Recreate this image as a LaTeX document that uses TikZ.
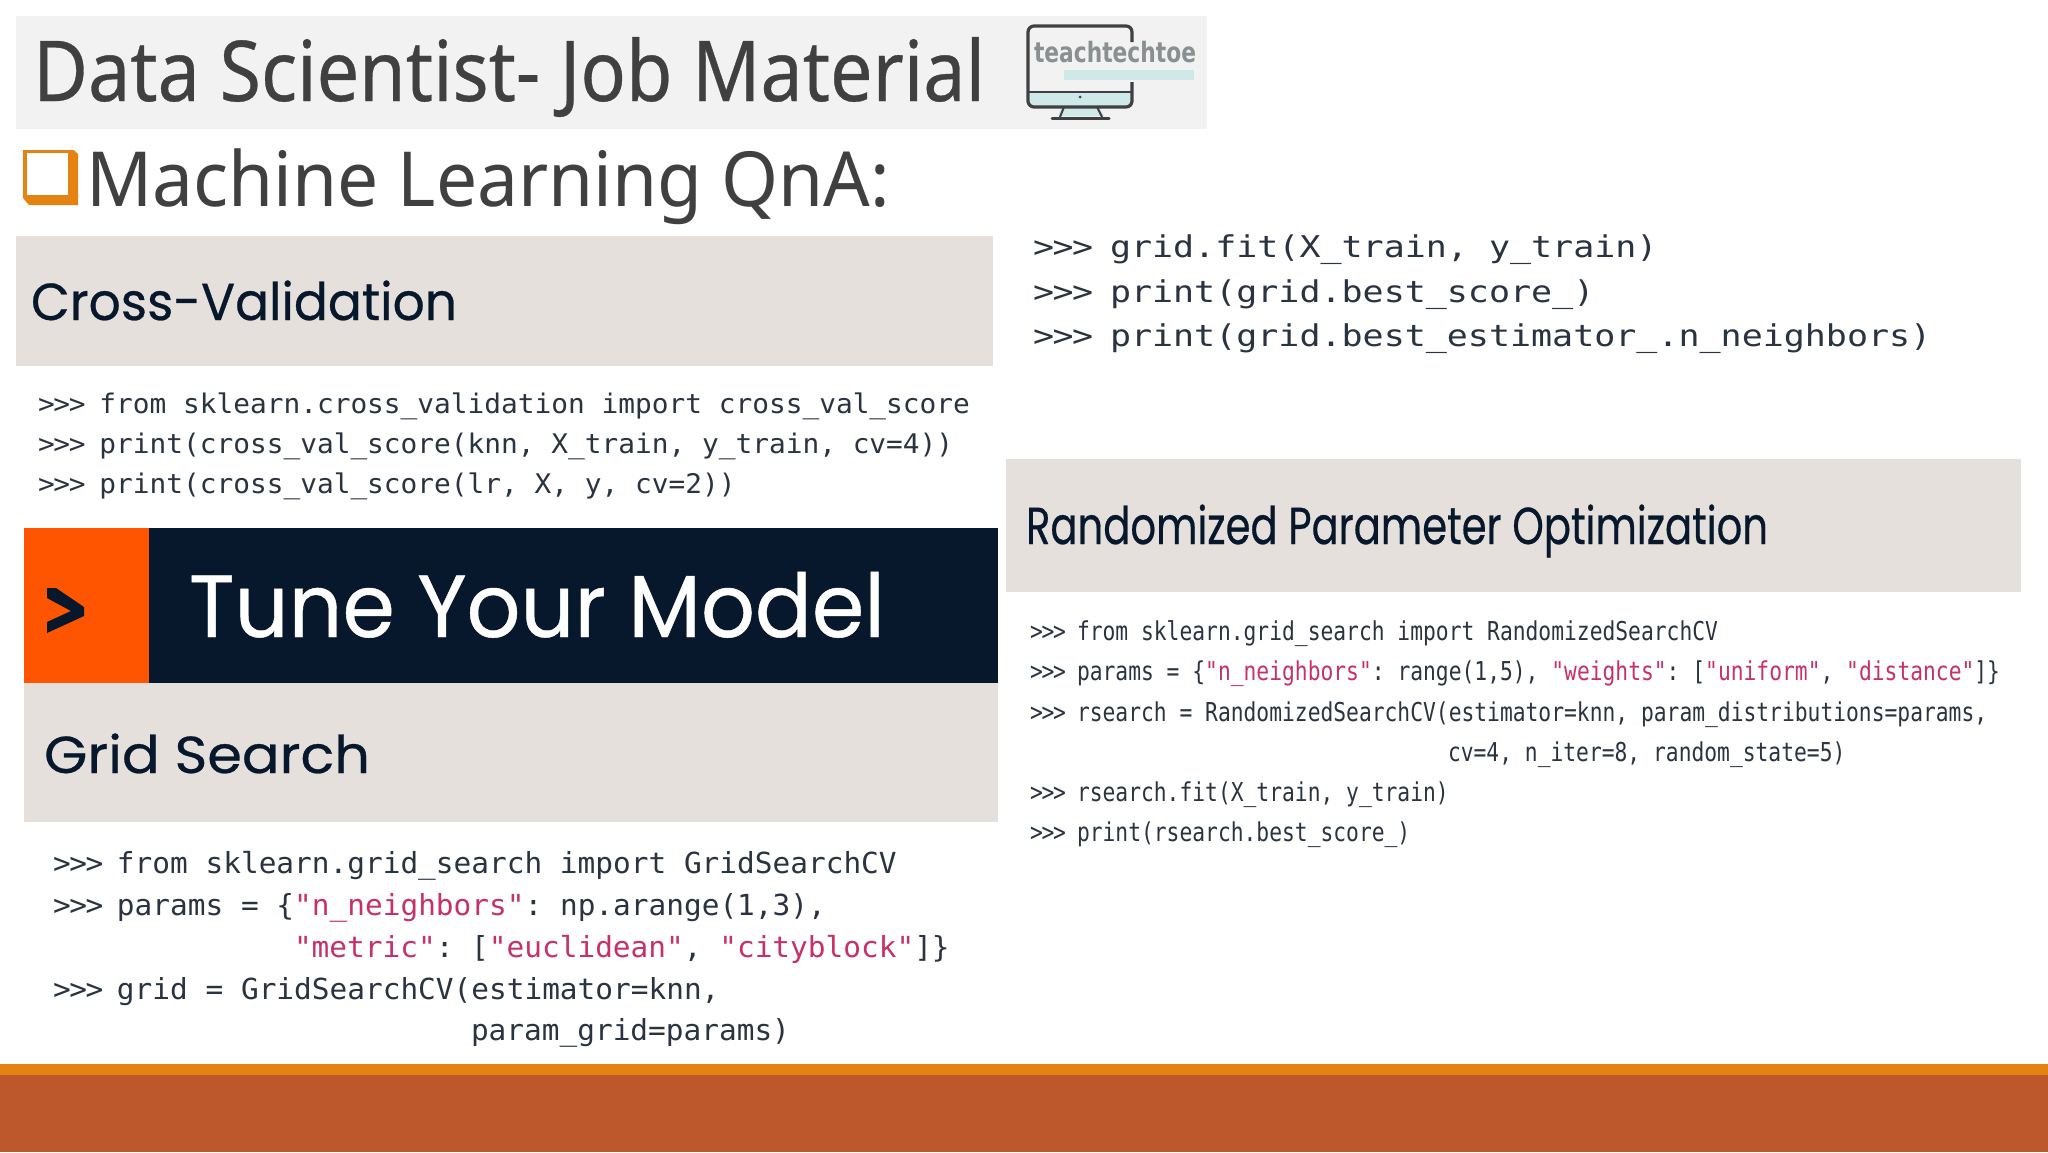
\documentclass[tikz,border=0pt]{standalone}
\usepackage{fontspec}
\usepackage{graphicx}
\setmainfont{Noto Sans}
\newfontfamily\codeA[FakeStretch=1.03]{DejaVu Sans Mono}
\newfontfamily\codeB[FakeStretch=1.015]{DejaVu Sans Mono}
\newfontfamily\codeC[FakeStretch=1.166]{DejaVu Sans Mono}
\newfontfamily\codeD[FakeStretch=0.819]{DejaVu Sans Mono}
\newfontfamily\headfont[FakeBold=0.5]{Poppins}
\newfontfamily\titlefont[FakeBold=0.4]{Noto Sans}
\newfontfamily\logofont{DejaVu Sans}
\definecolor{bandgrey}{HTML}{E5E0DB}
\definecolor{titlegrey}{HTML}{F2F2F2}
\definecolor{inkgrey}{HTML}{404040}
\definecolor{navy}{HTML}{07182D}
\definecolor{plorange}{HTML}{FF5500}
\definecolor{amber}{HTML}{E48312}
\definecolor{rust}{HTML}{BD582C}
\definecolor{codeink}{HTML}{2A3440}
\definecolor{strpink}{HTML}{C7306B}
\definecolor{screenblue}{HTML}{CFE8E8}
\definecolor{logoink}{HTML}{8A9092}
\frenchspacing
\AtBeginDocument{\frenchspacing}
\newcommand{\str}[1]{\textcolor{strpink}{#1}}
% prompt of fixed width, in pt
\newcommand{\pr}[1]{\makebox[#1][l]{{>}\kern-0.05em{>}\kern-0.05em{>}}}
\newcommand{\fitw}[2]{\resizebox{#1}{\height}{#2}}
\tikzset{
  x=0.5pt,y=-0.5pt,
  plain/.style={anchor=base west,inner sep=0pt,outer sep=0pt},
  lineA/.style={plain,text=codeink,font=\codeA\fontsize{13.5}{16}\selectfont},
  lineB/.style={plain,text=codeink,font=\codeB\fontsize{14.5}{17}\selectfont},
  lineC/.style={plain,text=codeink,font=\codeC\fontsize{15}{18}\selectfont},
  lineD/.style={plain,text=codeink,font=\codeD\fontsize{13}{16}\selectfont},
  heading/.style={plain,text=navy,font=\headfont\fontsize{26}{30}\selectfont},
}
\begin{document}
\begin{tikzpicture}
\useasboundingbox (0,0) rectangle (2048,1152);
\fill[white] (0,0) rectangle (2048,1152);
% title band
\fill[titlegrey] (16,16) rectangle (1207,129);
\node[plain,text=inkgrey,font=\titlefont\fontsize{42}{50}\selectfont] (title) at (33,101) {\fitw{476pt}{Data Scientist- Job Material}};
% logo
\fill[screenblue] (1030,92) rectangle (1132,107);
\fill[screenblue] (1064,70) rectangle (1194,80);
\fill[screenblue] (1062,107) -- (1099,107) -- (1104,116) -- (1058,116) -- cycle;
\draw[inkgrey,line width=1.6pt,rounded corners=3pt] (1132,42) -- (1132,26) -- (1028,26) -- (1028,107) -- (1132,107) -- (1132,82);
\draw[inkgrey,line width=1pt] (1028,92) -- (1132,92);
\draw[inkgrey,line width=1pt] (1064,107) -- (1060,117) (1097,107) -- (1102,117);
\draw[inkgrey,line width=1.5pt,line cap=round] (1052,118) -- (1109,118);
\fill[inkgrey] (1080,97) circle[radius=1.5];
\node[plain,text=logoink,font=\logofont\bfseries\fontsize{14}{16}\selectfont] (logo) at (1034,62) {\fitw{81pt}{teachtechtoe}};
% subtitle
\fill[amber] (23,150) -- (74,150) -- (78,154) -- (78,205) -- (29,205) -- (23,198) -- cycle;
\fill[white] (27,153) rectangle (68,195);
\node[plain,text=inkgrey,font=\fontsize{38}{44}\selectfont] (sub) at (86,206) {\fitw{402pt}{Machine Learning QnA:}};
% cross-validation
\fill[bandgrey] (16,236) rectangle (993,366);
\node[heading] (cvhead) at (31,320) {\fitw{213pt}{Cross-Validation}};
\node[lineA] (a1) at (38,413) {\pr{30.7pt}from sklearn.cross\_validation import cross\_val\_score};
\node[lineA] (a2) at (38,453) {\pr{30.7pt}print(cross\_val\_score(knn, X\_train, y\_train, cv=4))};
\node[lineA] (a3) at (38,493) {\pr{30.7pt}print(cross\_val\_score(lr, X, y, cv=2))};
% tune
\fill[navy] (149,528) rectangle (998,683);
\fill[plorange] (24,528) rectangle (149,683);
\fill[navy] (47,588) -- (56,588) -- (84,607) -- (84,616) -- (47,633) -- (47,622) -- (71,611) -- (47,598) -- cycle;
\node[plain,text=white,font=\headfont\fontsize{44}{50}\selectfont] (tune) at (189,637) {\fitw{348pt}{Tune Your Model}};
% grid search
\fill[bandgrey] (24,683) rectangle (998,822);
\node[heading] (gshead) at (44,773) {\fitw{163pt}{Grid Search}};
\node[lineB] (b1) at (53,873) {\pr{32pt}from sklearn.grid\_search import GridSearchCV};
\node[lineB] (b2) at (53,915) {\pr{32pt}params = \{\str{"n\_neighbors"}: np.arange(1,3),};
\node[lineB] (b3) at (294,957) {\str{"metric"}: [\str{"euclidean"}, \str{"cityblock"}]\}};
\node[lineB] (b4) at (53,999) {\pr{32pt}grid = GridSearchCV(estimator=knn,};
\node[lineB] (b5) at (471,1040) {param\_grid=params)};
% right top
\node[lineC] (c1) at (1033,257) {\pr{38.5pt}grid.fit(X\_train, y\_train)};
\node[lineC] (c2) at (1033,302) {\pr{38.5pt}print(grid.best\_score\_)};
\node[lineC] (c3) at (1033,346) {\pr{38.5pt}print(grid.best\_estimator\_.n\_neighbors)};
% randomized
\fill[bandgrey] (1006,459) rectangle (2021,592);
\node[heading] (rphead) at (1026,544) {\fitw{371pt}{Randomized Parameter Optimization}};
\node[lineD] (d1) at (1030,640) {\pr{23.5pt}from sklearn.grid\_search import RandomizedSearchCV};
\node[lineD] (d2) at (1030,680) {\pr{23.5pt}params = \{\str{"n\_neighbors"}: range(1,5), \str{"weights"}: [\str{"uniform"}, \str{"distance"}]\}};
\node[lineD] (d3) at (1030,721) {\pr{23.5pt}rsearch = RandomizedSearchCV(estimator=knn, param\_distributions=params,};
\node[lineD] (d4) at (1448,761) {cv=4, n\_iter=8, random\_state=5)};
\node[lineD] (d5) at (1030,801) {\pr{23.5pt}rsearch.fit(X\_train, y\_train)};
\node[lineD] (d6) at (1030,841) {\pr{23.5pt}print(rsearch.best\_score\_)};
% footer
\fill[amber] (0,1064) rectangle (2048,1075);
\fill[rust] (0,1075) rectangle (2048,1152);
\end{tikzpicture}
\end{document}
